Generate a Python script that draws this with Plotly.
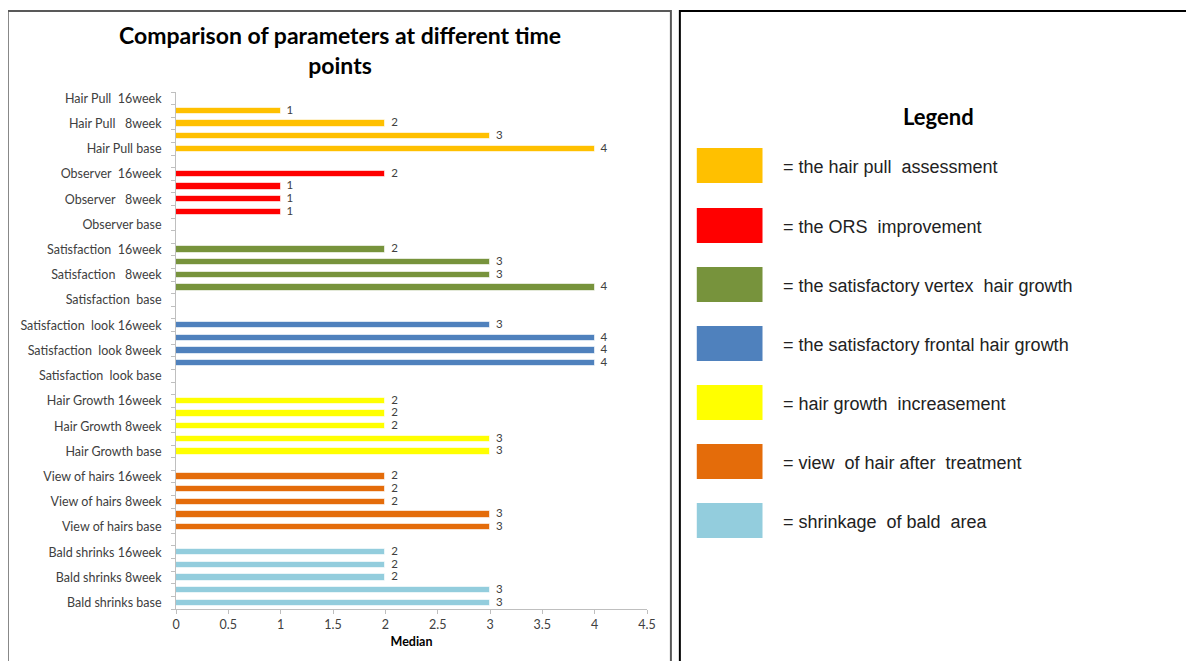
import plotly.graph_objects as go

# ---------------- data ----------------
label_templates = [
    ["Hair Pull  16week", "Hair Pull   8week", "Hair Pull base"],
    ["Observer  16week", "Observer   8week", "Observer base"],
    ["Satisfaction  16week", "Satisfaction   8week", "Satisfaction  base"],
    ["Satisfaction  look 16week", "Satisfaction  look 8week", "Satisfaction  look base"],
    ["Hair Growth 16week", "Hair Growth 8week", "Hair Growth base"],
    ["View of hairs 16week", "View of hairs 8week", "View of hairs base"],
    ["Bald shrinks 16week", "Bald shrinks 8week", "Bald shrinks base"],
]
# median values per row (top to bottom within each block); None = no bar
hair_pull = [None, 1, 2, 3, 4, None]
observer = [2, 1, 1, 1, None, None]
satisfaction = [2, 3, 3, 4, None, None]
satisfaction_look = [3, 4, 4, 4, None, None]
hair_growth = [2, 2, 2, 3, 3, None]
view_of_hairs = [2, 2, 2, 3, 3, None]
bald_shrinks = [2, 2, 2, 3, 3]
group_values = [hair_pull, observer, satisfaction, satisfaction_look,
                hair_growth, view_of_hairs, bald_shrinks]

colors = ["#FFC000", "#FF0000", "#77933C", "#4F81BD", "#FFFF00", "#E46C0A", "#93CDDD"]
legend_texts = ["= the hair pull  assessment", "= the ORS  improvement",
                "= the satisfactory vertex  hair growth", "= the satisfactory frontal hair growth",
                "= hair growth  increasement", "= view  of hair after  treatment",
                "= shrinkage  of bald  area"]
x_ticks = [0, 0.5, 1, 1.5, 2, 2.5, 3, 3.5, 4, 4.5]

# ---------------- build rows ----------------
row_labels = []
for labs, vals in zip(label_templates, group_values):
    for i in range(len(vals)):
        row_labels.append(labs[i // 2] if i % 2 == 0 else "")
n_rows = len(row_labels)

# ---------------- pixel helpers (layout only) ----------------
OFF = 8  # page body margin
W_FIG, H_FIG = 1194 - OFF, 661 - OFF
L, R, T, B = 174 - OFF, 647 - OFF, 92 - OFF, 609 - OFF
PW, PH = R - L, B - T
def px(x):
    return (x - OFF - L) / PW
def py(y):
    return (B - (y - OFF)) / PH

FONT = "Lato, Open Sans, sans-serif"
fig = go.Figure()
start = 0
for vals, col in zip(group_values, colors):
    ys = list(range(start, start + len(vals)))
    fig.add_trace(go.Bar(
        x=vals, y=ys, orientation="h", width=0.5,
        marker=dict(color=col, line=dict(color="rgba(255,255,255,0.6)", width=1)),
        showlegend=False, hoverinfo="x+y"))
    # data labels
    fig.add_trace(go.Scatter(
        x=vals, y=ys, mode="text",
        text=[("" if v is None else f"\u00a0\u00a0{v}") for v in vals],
        textposition="middle right", cliponaxis=False,
        textfont=dict(family=FONT, size=11.5, color="#404040"),
        showlegend=False, hoverinfo="skip"))
    start += len(vals)

label_rows = [i for i, s in enumerate(row_labels) if s]
fig.update_yaxes(
    range=[n_rows - 0.5, -0.5], tickmode="array",
    tickvals=label_rows, ticktext=[row_labels[i] for i in label_rows],
    ticks="", showgrid=False, zeroline=False,
    showline=True, linecolor="#BFBFBF", linewidth=1,
    tickfont=dict(family=FONT, size=12.5, color="#404040"),
    ticklabelstandoff=11,
    minor=dict(tickmode="array", tickvals=[i - 0.5 for i in range(n_rows + 1)],
               ticks="outside", ticklen=4, tickcolor="#BFBFBF", tickwidth=1, showgrid=False),
)
fig.update_xaxes(
    range=[0, 4.5], tickmode="array", tickvals=x_ticks,
    ticktext=[f"{v:g}" for v in x_ticks],
    ticks="outside", ticklen=4, tickcolor="#BFBFBF",
    showgrid=False, zeroline=False, showline=True, linecolor="#BFBFBF", linewidth=1,
    tickfont=dict(family=FONT, size=12.5, color="#404040"),
    title=dict(text="<b>Median</b>", standoff=6,
               font=dict(family=FONT, size=12.5, color="#000000")),
)

annotations = [
    dict(text="<b>Comparison of parameters at different time<br>points</b>",
         xref="paper", yref="paper", x=px(339), y=py(50), xanchor="center", yanchor="middle",
         showarrow=False, align="center",
         font=dict(family=FONT, size=23, color="#000000")),
    dict(text="<b>Legend</b>", xref="paper", yref="paper", x=px(940), y=py(117),
         xanchor="center", yanchor="middle", showarrow=False,
         font=dict(family=FONT, size=22, color="#000000")),
]
shapes = [
    dict(type="rect", xref="paper", yref="paper", x0=px(5), x1=px(671), y0=py(668), y1=py(11),
         line=dict(color="#595959", width=2), fillcolor="rgba(0,0,0,0)", layer="below"),
    dict(type="rect", xref="paper", yref="paper", x0=px(680), x1=px(1200), y0=py(668), y1=py(11),
         line=dict(color="#000000", width=2), fillcolor="rgba(0,0,0,0)", layer="below"),
]
sw_top = [148, 208, 267, 326, 385, 444, 503]
for top, col, txt in zip(sw_top, colors, legend_texts):
    shapes.append(dict(type="rect", xref="paper", yref="paper",
                       x0=px(697), x1=px(763), y0=py(top + 35), y1=py(top),
                       line=dict(width=0), fillcolor=col))
    annotations.append(dict(text=txt, xref="paper", yref="paper", x=px(782), y=py(top + 19),
                            xanchor="left", yanchor="middle", showarrow=False,
                            font=dict(family="Liberation Sans, Arial, sans-serif", size=18,
                                      color="#222222")))

fig.update_layout(
    width=W_FIG, height=H_FIG, autosize=False,
    margin=dict(l=L, r=W_FIG - R, t=T, b=H_FIG - B, pad=0),
    paper_bgcolor="white", plot_bgcolor="white",
    barmode="overlay", bargap=0,
    annotations=annotations, shapes=shapes,
)
fig.write_html("out.html")
